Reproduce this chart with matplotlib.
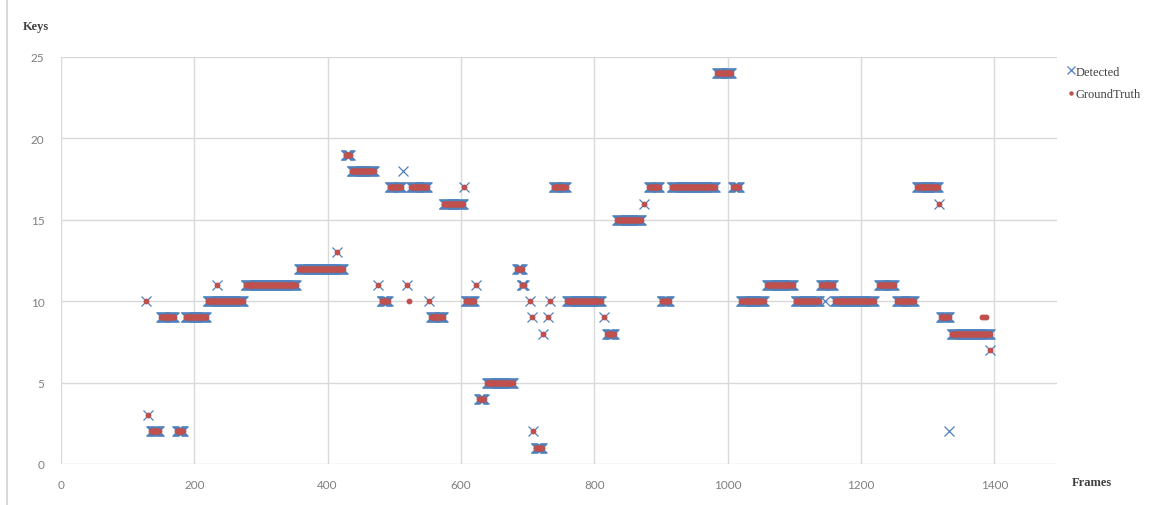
import numpy as np
import matplotlib
matplotlib.use("Agg")
import matplotlib.pyplot as plt
from matplotlib.lines import Line2D

# runs of frames where Detected and GroundTruth agree: start frame, end frame, key
run_start = [128, 130, 135, 150, 174, 187, 220, 234, 277, 357, 414, 427, 436, 475, 481,
             493, 519, 525, 552, 555, 574, 604, 607, 622, 627, 639, 684, 691, 703, 706,
             708, 712, 723, 730, 733, 739, 759, 814, 819, 834, 874, 882, 901, 916, 984,
             1008, 1020, 1059, 1102, 1140, 1161, 1227, 1254, 1284, 1317, 1320, 1336, 1393]
run_end = [128, 130, 147, 169, 183, 217, 273, 234, 352, 423, 414, 433, 469, 475, 490,
           510, 519, 549, 552, 573, 603, 604, 619, 622, 634, 678, 691, 694, 703, 706,
           708, 721, 723, 730, 733, 757, 810, 814, 829, 870, 874, 897, 912, 981, 1005,
           1017, 1054, 1098, 1137, 1158, 1219, 1249, 1279, 1315, 1317, 1332, 1393, 1393]
run_key = [10, 3, 2, 9, 2, 9, 10, 11, 11, 12, 13, 19, 18, 11, 10,
           17, 11, 17, 10, 9, 16, 17, 10, 11, 4, 5, 12, 11, 10, 9,
           2, 1, 8, 9, 10, 17, 10, 9, 8, 15, 16, 17, 10, 17, 24,
           17, 10, 11, 10, 11, 10, 11, 10, 17, 16, 9, 8, 7]

# frames where only one series has a point
det_only_frames = [513, 1146, 1332]
det_only_keys = [18, 10, 2]
gt_only_frames = [522, 1381, 1384, 1387]
gt_only_keys = [10, 9, 9, 9]


def expand(starts, ends, keys):
    fr, ky = [], []
    for s, e, k in zip(starts, ends, keys):
        f = np.arange(s, e + 1)
        fr.extend(f)
        ky.extend([k] * len(f))
    return np.array(fr), np.array(ky)


run_f, run_k = expand(run_start, run_end, run_key)
det_f = np.concatenate([run_f, det_only_frames])
det_k = np.concatenate([run_k, det_only_keys])
gt_f = np.concatenate([run_f, gt_only_frames])
gt_k = np.concatenate([run_k, gt_only_keys])

BLUE = "#4F81BD"
RED = "#C0504D"
GRID = "#D9D9D9"
SERIF = "Liberation Serif"

W, H = 1155, 506
fig = plt.figure(figsize=(W / 100, H / 100), dpi=100)
ax = fig.add_axes([61 / W, 1 - 465 / H, (1057 - 61) / W, (465 - 58) / H])

ax.plot(det_f, det_k, ls="none", marker="x", ms=6.8, mew=0.9, color=BLUE, label="Detected")
ax.plot(gt_f, gt_k, ls="none", marker="o", ms=4.2, mew=0, color=RED, label="GroundTruth")

ax.set_xlim(0, 1494)
ax.set_ylim(0, 25)
ax.set_xticks(range(0, 1401, 200))
ax.set_yticks(range(0, 26, 5))
ax.grid(True, color=GRID, lw=1)
ax.set_axisbelow(True)
for sp in ax.spines.values():
    sp.set_visible(False)
ax.tick_params(length=0, labelsize=8.5, labelcolor="#7F7F7F")
ax.tick_params(axis="x", pad=11)
ax.tick_params(axis="y", pad=12)
for lbl in ax.get_xticklabels() + ax.get_yticklabels():
    lbl.set_family("Lato")

fig.text(23 / W, 1 - 27 / H, "Keys", family=SERIF, fontsize=9, color="#404040",
         va="center", ha="left", fontweight="bold")
fig.text(1072 / W, 1 - 483 / H, "Frames", family=SERIF, fontsize=9, color="#404040",
         va="center", ha="left", fontweight="bold")

handles = [Line2D([], [], ls="none", marker="x", ms=5.5, mew=0.9, color=BLUE),
           Line2D([], [], ls="none", marker="o", ms=3.2, mew=0, color=RED)]
fig.legend(handles, ["Detected", "GroundTruth"], loc="upper left",
           bbox_to_anchor=(1058 / W, 1 - 58 / H), frameon=False,
           prop={"family": SERIF, "size": 9}, labelcolor="#404040",
           handlelength=0.6, handletextpad=0.1, labelspacing=0.85, borderpad=0.2)

# left border of the chart area
fig.add_artist(Line2D([7 / W, 7 / W], [0, 1], color=GRID, lw=1.5))

fig.savefig("out.png", dpi=100)
